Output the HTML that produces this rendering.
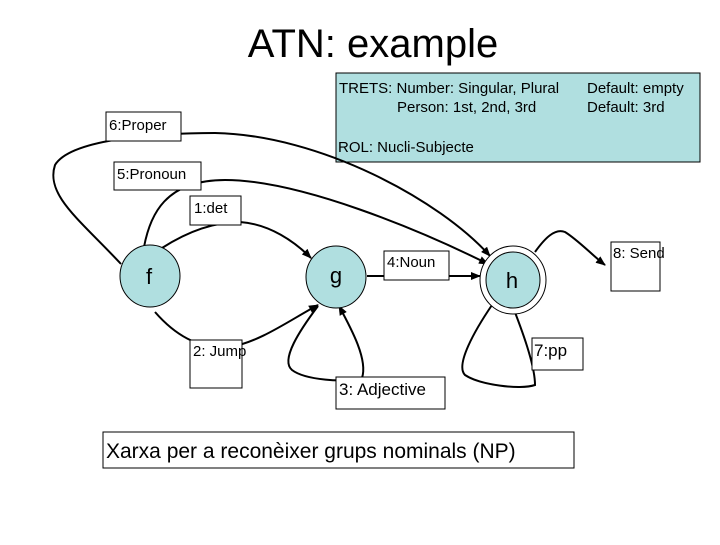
<!DOCTYPE html>
<html><head><style>
body{margin:0;background:#fff;}
</style></head><body>
<svg width="720" height="540" xmlns="http://www.w3.org/2000/svg">
<defs><marker id="a" markerWidth="10" markerHeight="8" refX="9" refY="4" orient="auto" markerUnits="userSpaceOnUse"><path d="M0,0 L10,4 L0,8 z" fill="#000"/></marker></defs>
<text x="373" y="57" text-anchor="middle" font-family="Liberation Sans,sans-serif" font-size="40">ATN: example</text>
<rect x="336" y="73" width="364" height="89" fill="#b0dfe0" stroke="#000"/>
<g font-family="Liberation Sans,sans-serif" font-size="15" fill="#000">
<text x="339" y="93">TRETS: Number: Singular, Plural</text>
<text x="397" y="112">Person: 1st, 2nd, 3rd</text>
<text x="587" y="93">Default: empty</text>
<text x="587" y="112">Default: 3rd</text>
<text x="338" y="152">ROL: Nucli-Subjecte</text>
</g>
<g fill="none" stroke="#000" stroke-width="2">
<path d="M121,264 C80,220 45,195 55,165 C70,140 150,133 215,133 C320,135 440,200 490,256" marker-end="url(#a)"/>
<path d="M144,247 C150,215 165,180 225,180 C300,180 420,230 488,264" marker-end="url(#a)"/>
<path d="M162,248 C190,230 215,222 240,222 C270,224 295,242 311,258" marker-end="url(#a)"/>
<path d="M155,312 C175,335 200,350 230,347 C260,342 290,320 318,305" marker-end="url(#a)"/>
<path d="M318,306 C300,330 280,360 292,370 C305,380 345,383 362,378 C368,360 352,330 339,306" marker-end="url(#a)"/>
<path d="M367,276 L480,276" marker-end="url(#a)"/>
<path d="M492,305 C475,330 455,365 465,375 C480,385 520,390 535,385 C535,365 522,330 511,302" marker-end="url(#a)"/>
<path d="M535,252 C545,238 555,228 565,232 C578,240 592,255 605,265" marker-end="url(#a)"/>
</g>
<ellipse cx="150" cy="276" rx="30" ry="31" fill="#b0dfe0" stroke="#000"/>
<ellipse cx="336" cy="277" rx="30" ry="31" fill="#b0dfe0" stroke="#000"/>
<ellipse cx="513" cy="280" rx="33" ry="34" fill="#fff" stroke="#000"/>
<ellipse cx="513" cy="280" rx="27" ry="28" fill="#b0dfe0" stroke="#000"/>
<g font-family="Liberation Sans,sans-serif" font-size="22" text-anchor="middle">
<text x="149" y="284">f</text><text x="336" y="283">g</text><text x="512" y="288">h</text>
</g>
<g fill="#fff" stroke="#000">
<rect x="106" y="112" width="75" height="29"/>
<rect x="114" y="162" width="87" height="28"/>
<rect x="190" y="196" width="51" height="29"/>
<rect x="384" y="251" width="65" height="29"/>
<rect x="611" y="242" width="49" height="49"/>
<rect x="190" y="340" width="52" height="48"/>
<rect x="336" y="377" width="109" height="32"/>
<rect x="532" y="338" width="51" height="32"/>
<rect x="103" y="432" width="471" height="36"/>
</g>
<g font-family="Liberation Sans,sans-serif" font-size="15">
<text x="109" y="130">6:Proper</text>
<text x="117" y="179">5:Pronoun</text>
<text x="194" y="213">1:det</text>
<text x="387" y="267">4:Noun</text>
<text x="613" y="258">8: Send</text>
<text x="193" y="356">2: Jump</text>
<text x="339" y="395" font-size="17">3: Adjective</text>
<text x="534" y="356" font-size="17">7:pp</text>
<text x="106" y="458" font-size="21">Xarxa per a reconèixer grups nominals (NP)</text>
</g>
</svg>
</body></html>
